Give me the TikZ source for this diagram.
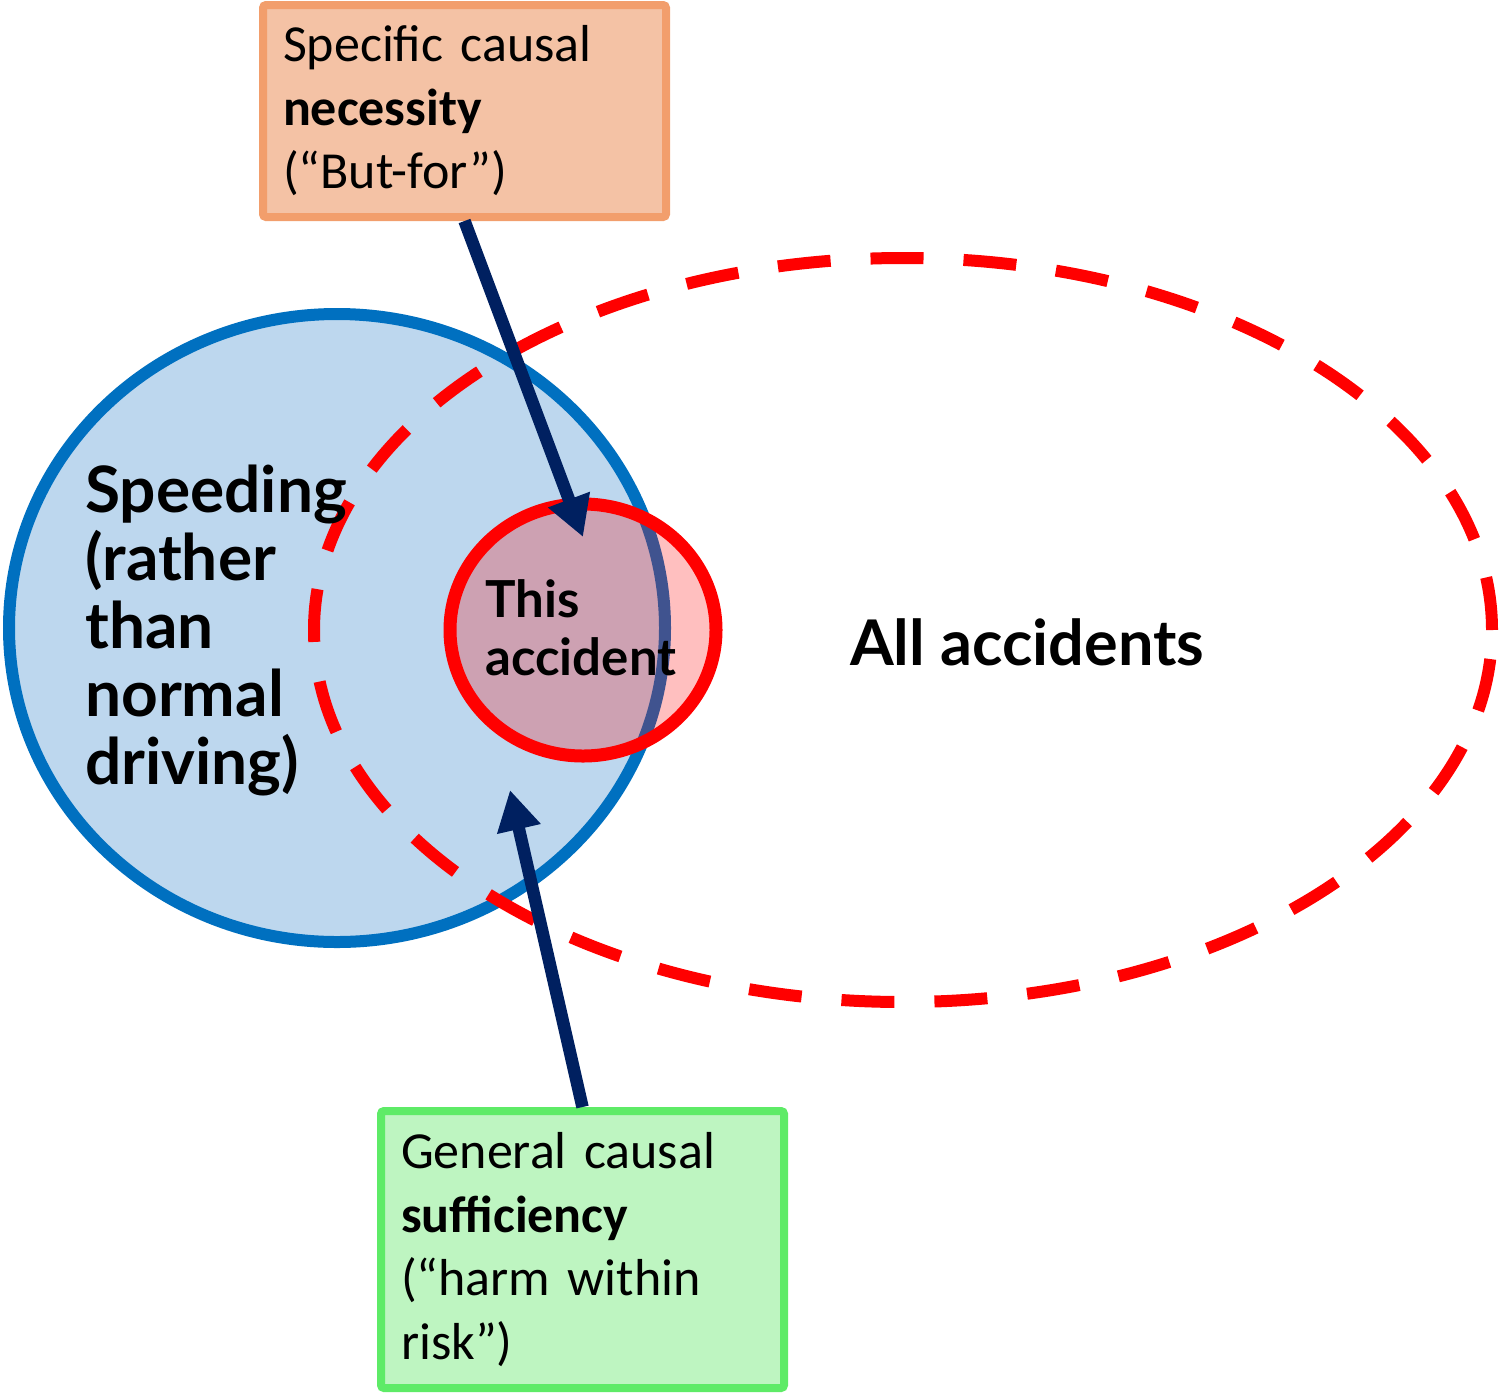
\documentclass[tikz,border=0pt]{standalone}
\usepackage{fontspec}
\setmainfont{Carlito}
\newfontfamily\geofont{Lato}
\usetikzlibrary{arrows.meta,shapes.geometric}
\definecolor{spdfill}{HTML}{BDD7EE}
\definecolor{spdline}{HTML}{0070C0}
\definecolor{navyarrow}{HTML}{002060}
\definecolor{orgfill}{HTML}{F4C2A5}
\definecolor{orgline}{HTML}{F29E6C}
\definecolor{grnfill}{HTML}{BEF5C1}
\definecolor{grnline}{HTML}{5EEB67}
\tikzset{
  setshape/.style={ellipse, inner sep=0pt},
  labelbox/.style={rectangle, draw, line width=8pt, rounded corners=3pt,
    minimum width=403pt, inner xsep=20pt, inner ysep=0pt,
    text width=363pt, align=left, font=\fontsize{52}{63.5}\selectfont},
  arr/.style={draw=navyarrow, line width=12.5pt,
    -{Triangle[width=42pt,length=40pt]}},
  bigtext/.style={inner sep=0pt, align=left, font=\geofont\bfseries}
}
\begin{document}
\begin{tikzpicture}[x=1pt,y=-1pt]
\useasboundingbox (0,0) rectangle (1503,1393);
% Speeding circle
\node[setshape, draw=spdline, fill=spdfill, line width=12pt,
  minimum width=656pt, minimum height=628pt] (speed) at (337,628) {};
% All accidents dashed ellipse
\node[setshape, draw=red, line width=12pt, dash pattern=on 53pt off 40pt,
  minimum width=1178pt, minimum height=744pt] (all) at (903,630) {};
% This accident circle
\node[setshape, draw=red, line width=13pt, fill=red, fill opacity=0.25,
  draw opacity=1, text opacity=1,
  minimum width=266pt, minimum height=252pt] (this) at (583,630) {};
\node[bigtext, font=\geofont\bfseries\fontsize{51}{58}\selectfont,
  anchor=base west] (thistext) at (485,675) {This\\accident};
% texts
\node[bigtext, font=\geofont\bfseries\fontsize{64}{68}\selectfont,
  anchor=base west] (speedtext) at (85,784)
  {Speeding\\(rather\\than\\normal\\driving)};
\node[bigtext, font=\geofont\bfseries\fontsize{63}{66}\selectfont,
  anchor=base west] (alltext) at (850,665) {All accidents};
% boxes
\node[labelbox, draw=orgline, fill=orgfill, minimum height=212pt]
  (nec) at (464.5,111)
  {Specific causal\\\textbf{necessity}\\(“But-for”)};
\node[labelbox, draw=grnline, fill=grnfill, minimum height=277pt]
  (suf) at (582.5,1249.5)
  {General causal\\\textbf{sufficiency}\\(“harm within\\risk”)};
% arrows
\coordinate (tip1) at (583,537);
\coordinate (tip2) at (510,790);
\draw[arr] (nec.south) -- (tip1);
\draw[arr] (suf.north) -- (tip2);
\end{tikzpicture}
\end{document}
